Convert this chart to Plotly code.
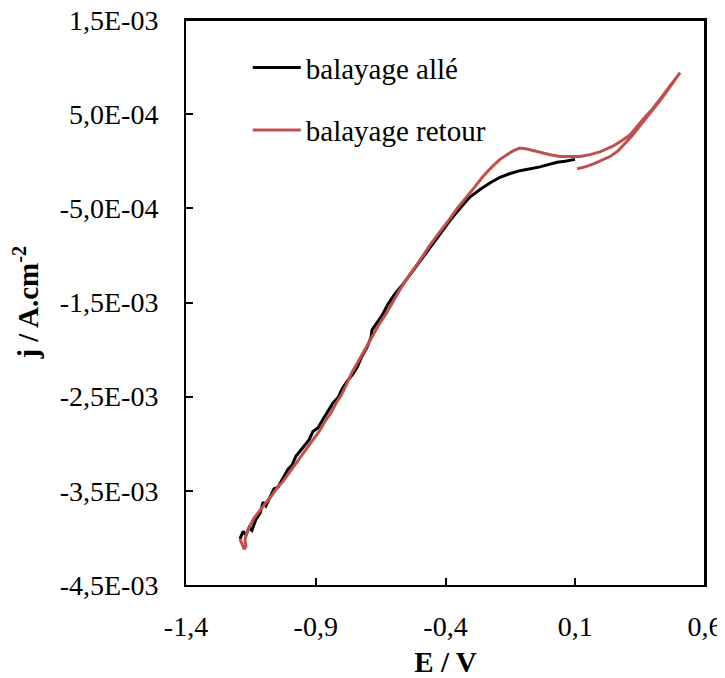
import plotly.graph_objects as go

# balayage allé (forward scan) : E / V and j / A.cm-2
e_alle = [-1.192, -1.180, -1.169, -1.157, -1.146, -1.130, -1.115, -1.103, -1.092, -1.076,
          -1.061, -1.045, -1.026, -1.007, -0.992, -0.976, -0.961, -0.945, -0.926, -0.911,
          -0.891, -0.872, -0.853, -0.834, -0.814, -0.799, -0.780, -0.760, -0.741, -0.722,
          -0.703, -0.687, -0.683, -0.664, -0.645, -0.622, -0.595, -0.568, -0.537, -0.498,
          -0.460, -0.421, -0.383, -0.344, -0.306, -0.267, -0.229, -0.190, -0.151, -0.113,
          -0.074, -0.036, 0.003, 0.030, 0.061, 0.099]
j_alle = [-4.01e-3, -3.93e-3, -3.97e-3, -3.89e-3, -3.92e-3, -3.80e-3, -3.74e-3, -3.62e-3, -3.66e-3, -3.56e-3,
          -3.48e-3, -3.46e-3, -3.36e-3, -3.27e-3, -3.23e-3, -3.13e-3, -3.08e-3, -3.02e-3, -2.96e-3, -2.87e-3,
          -2.83e-3, -2.74e-3, -2.66e-3, -2.57e-3, -2.51e-3, -2.42e-3, -2.34e-3, -2.27e-3, -2.19e-3, -2.07e-3,
          -1.98e-3, -1.87e-3, -1.79e-3, -1.72e-3, -1.64e-3, -1.52e-3, -1.41e-3, -1.32e-3, -1.21e-3, -1.06e-3,
          -0.92e-3, -0.77e-3, -0.63e-3, -0.50e-3, -0.38e-3, -0.30e-3, -0.23e-3, -0.17e-3, -0.13e-3, -0.10e-3,
          -0.08e-3, -0.06e-3, -0.03e-3, -0.01e-3, 0.00e-3, 0.02e-3]

# balayage retour (return scan)
e_retour = [0.107, 0.138, 0.168, 0.203, 0.234, 0.265, 0.292, 0.319, 0.350, 0.380,
            0.411, 0.442, 0.473, 0.504, 0.484, 0.454, 0.427, 0.396, 0.369, 0.338,
            0.311, 0.280, 0.245, 0.195, 0.157, 0.118, 0.080, 0.041, 0.003, -0.024,
            -0.055, -0.086, -0.113, -0.140, -0.163, -0.190, -0.221, -0.255, -0.286, -0.317,
            -0.352, -0.383, -0.421, -0.460, -0.498, -0.537, -0.575, -0.602, -0.629, -0.660,
            -0.683, -0.710, -0.737, -0.760, -0.783, -0.803, -0.822, -0.841, -0.864, -0.887,
            -0.911, -0.934, -0.957, -0.980, -1.003, -1.026, -1.049, -1.072, -1.096, -1.119,
            -1.138, -1.153, -1.165, -1.173, -1.169, -1.176, -1.184, -1.192]
j_retour = [-0.08e-3, -0.06e-3, -0.03e-3, 0.01e-3, 0.05e-3, 0.11e-3, 0.19e-3, 0.27e-3, 0.38e-3, 0.48e-3,
            0.59e-3, 0.70e-3, 0.82e-3, 0.94e-3, 0.87e-3, 0.76e-3, 0.66e-3, 0.55e-3, 0.47e-3, 0.37e-3,
            0.28e-3, 0.22e-3, 0.16e-3, 0.10e-3, 0.07e-3, 0.05e-3, 0.05e-3, 0.05e-3, 0.07e-3, 0.09e-3,
            0.11e-3, 0.13e-3, 0.14e-3, 0.11e-3, 0.07e-3, 0.02e-3, -0.06e-3, -0.16e-3, -0.27e-3, -0.37e-3,
            -0.49e-3, -0.61e-3, -0.75e-3, -0.89e-3, -1.05e-3, -1.20e-3, -1.36e-3, -1.49e-3, -1.62e-3, -1.75e-3,
            -1.87e-3, -2.00e-3, -2.13e-3, -2.24e-3, -2.38e-3, -2.49e-3, -2.57e-3, -2.67e-3, -2.76e-3, -2.87e-3,
            -2.96e-3, -3.05e-3, -3.14e-3, -3.23e-3, -3.31e-3, -3.40e-3, -3.47e-3, -3.56e-3, -3.64e-3, -3.72e-3,
            -3.79e-3, -3.87e-3, -3.94e-3, -4.02e-3, -4.09e-3, -4.12e-3, -4.06e-3, -4.01e-3]

x_ticks = [-1.4, -0.9, -0.4, 0.1, 0.6]
x_ticktext = ["-1,4", "-0,9", "-0,4", "0,1", "0,6"]
y_ticks = [1.5e-3, 0.5e-3, -0.5e-3, -1.5e-3, -2.5e-3, -3.5e-3, -4.5e-3]
y_ticktext = ["1,5E-03", "5,0E-04", "-5,0E-04", "-1,5E-03", "-2,5E-03", "-3,5E-03", "-4,5E-03"]

FONT = "Liberation Serif"

fig = go.Figure()
fig.add_trace(go.Scatter(x=e_alle, y=j_alle, mode="lines", name="balayage allé",
                         line=dict(color="#000000", width=3), legendgroup="a"))
fig.add_trace(go.Scatter(x=e_retour, y=j_retour, mode="lines", name="balayage retour",
                         line=dict(color="#C0504D", width=3), legendgroup="b"))

axis_common = dict(showline=True, linecolor="black", linewidth=2, mirror=True,
                   ticks="inside", ticklen=7, tickwidth=2, tickcolor="black",
                   showgrid=False, zeroline=False, automargin=False,
                   ticklabeloverflow="allow",
                   tickfont=dict(family=FONT, size=28, color="#000000"))

frame = dict(color="#000000", width=2)

# the page body sits 8px in, so the figure is 8px smaller on each side to fit the window
fig.update_layout(
    width=717, height=670,
    margin=dict(l=178, r=20, t=12, b=93),
    paper_bgcolor="white", plot_bgcolor="white",
    font=dict(family=FONT, color="#000000"),
    xaxis=dict(range=[-1.4, 0.6], tickvals=x_ticks, ticktext=x_ticktext,
               ticklabelstandoff=15,
               title=dict(text="<b>E / V</b>", font=dict(family=FONT, size=29), standoff=14),
               **axis_common),
    yaxis=dict(range=[-4.5e-3, 1.5e-3], tickvals=y_ticks, ticktext=y_ticktext,
               ticklabelstandoff=20, **axis_common),
    legend=dict(x=0.119, y=0.961, xanchor="left", yanchor="top",
                bgcolor="rgba(0,0,0,0)", font=dict(family=FONT, size=29),
                itemwidth=48, tracegroupgap=22),
    annotations=[dict(text="<b>j / A.cm<sup>-2</sup></b>", textangle=-90,
                      xref="paper", yref="paper", x=-0.31, y=0.5,
                      xanchor="center", yanchor="middle", showarrow=False,
                      font=dict(family=FONT, size=29))],
    shapes=[
        dict(type="line", xref="paper", yref="paper", x0=0, x1=1, y0=1, y1=1, line=frame, layer="above"),
        dict(type="line", xref="paper", yref="paper", x0=1, x1=1, y0=0, y1=1, line=frame, layer="above"),
    ],
)

fig.write_html("out.html")
